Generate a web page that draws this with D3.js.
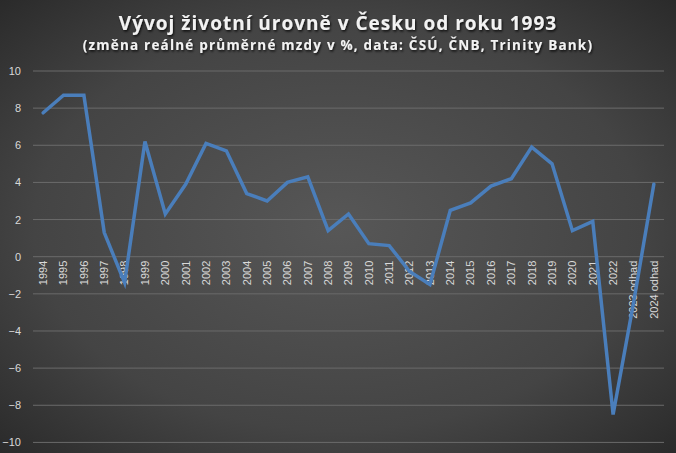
<!DOCTYPE html>
<html><head><meta charset="utf-8">
<script src="https://cdn.jsdelivr.net/npm/d3@7"></script>
<style>html,body{margin:0;padding:0;background:#3a3a3a;}svg{display:block;}</style>
</head><body>
<script>
const categories = ["1994","1995","1996","1997","1998","1999","2000","2001","2002","2003","2004","2005","2006","2007","2008","2009","2010","2011","2012","2013","2014","2015","2016","2017","2018","2019","2020","2021","2022","2023 odhad","2024 odhad"];
const values = [7.75,8.7,8.7,1.3,-1.4,6.2,2.3,3.9,6.1,5.7,3.4,3.0,4.0,4.3,1.4,2.3,0.7,0.6,-0.8,-1.5,2.5,2.9,3.8,4.2,5.9,5.0,1.4,1.9,-8.5,-2.5,3.9];
const yTicks = [-10,-8,-6,-4,-2,0,2,4,6,8,10];
const title = "Vývoj životní úrovně v Česku od roku 1993";
const subtitle = "(změna reálné průměrné mzdy v %, data: ČSÚ, ČNB, Trinity Bank)";

const W = 676, H = 453;
const svg = d3.select("body").append("svg").attr("width", W).attr("height", H);
const defs = svg.append("defs");
const rg = defs.append("radialGradient").attr("id","bg").attr("cx","50%").attr("cy","50%").attr("r","75%");
rg.append("stop").attr("offset","0%").attr("stop-color","#575757");
rg.append("stop").attr("offset","60%").attr("stop-color","#444444");
rg.append("stop").attr("offset","100%").attr("stop-color","#262626");
const f = defs.append("filter").attr("id","ts").attr("x","-10%").attr("y","-50%").attr("width","120%").attr("height","200%");
f.append("feDropShadow").attr("dx",1).attr("dy",1.5).attr("stdDeviation",1.2).attr("flood-color","#000").attr("flood-opacity",0.8);
svg.append("rect").attr("width",W).attr("height",H).attr("fill","url(#bg)");

const x = d3.scaleBand().domain(categories).range([33, 664]);
const y = d3.scaleLinear().domain([-10, 10]).range([442.4, 71]);

svg.append("g").selectAll("line").data(yTicks).join("line")
  .attr("x1", 33).attr("x2", 664)
  .attr("y1", d => y(d)).attr("y2", d => y(d))
  .attr("stroke", "#6b6b6b").attr("stroke-width", 1);

const yAxis = d3.axisLeft(y).tickValues(yTicks).tickSize(0).tickPadding(0).tickFormat(d3.format("d"));
const gy = svg.append("g").attr("transform","translate(21,0)").call(yAxis);
gy.select(".domain").remove();
gy.selectAll("text").attr("fill","#d9d9d9").attr("font-family","'Liberation Sans', Arial, sans-serif").attr("font-size","11px");

const xAxis = d3.axisBottom(x).tickSize(0).tickPadding(0);
const gx = svg.append("g").attr("transform",`translate(0,${y(0)})`).call(xAxis);
gx.select(".domain").remove();
gx.selectAll("text")
  .attr("fill","#d9d9d9").attr("font-family","'Liberation Sans', Arial, sans-serif").attr("font-size","11px")
  .attr("transform","rotate(-90)").attr("text-anchor","end")
  .attr("x",-4).attr("y",0).attr("dy","0.35em");

const line = d3.line().x(d => x(d.c) + x.bandwidth()/2).y(d => y(d.v));
svg.append("path").datum(categories.map((c,i)=>({c, v: values[i]})))
  .attr("d", line).attr("fill","none").attr("stroke","#4a7ebb").attr("stroke-width",3.5)
  .attr("stroke-linejoin","miter").attr("stroke-linecap","round");

svg.append("text").attr("x",338).attr("y",30).attr("text-anchor","middle")
  .attr("fill","#f2f2f2").attr("font-family","'Open Sans', sans-serif").attr("font-weight","bold")
  .attr("font-size","19px").attr("letter-spacing","1px").attr("filter","url(#ts)").text(title);
svg.append("text").attr("x",338).attr("y",50).attr("text-anchor","middle")
  .attr("fill","#f2f2f2").attr("font-family","'Open Sans', sans-serif").attr("font-weight","bold")
  .attr("font-size","13.5px").attr("letter-spacing","1.2px").attr("filter","url(#ts)").text(subtitle);
</script>
</body></html>
